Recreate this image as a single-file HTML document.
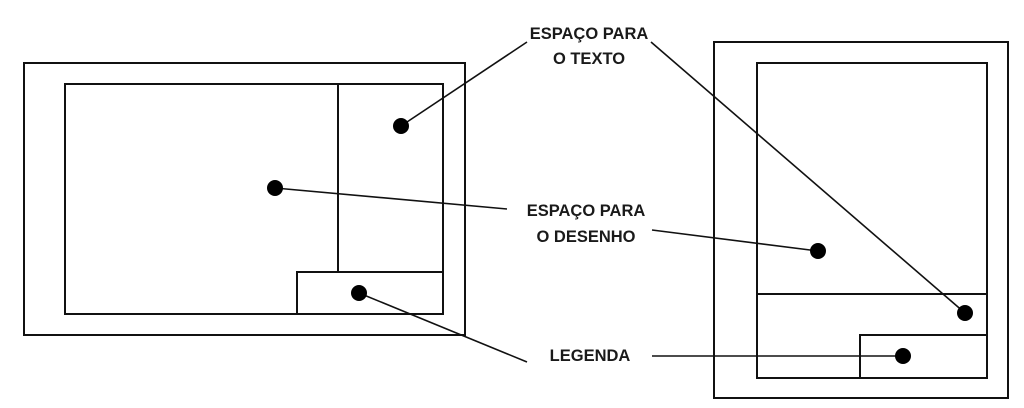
<!DOCTYPE html>
<html><head><meta charset="utf-8"><style>
html,body{margin:0;padding:0;background:#fff;}
svg{display:block}
text{font-family:"Liberation Sans",sans-serif;font-size:16.5px;font-weight:bold;fill:#1a1a1a;text-anchor:middle}
</style></head><body>
<svg width="1024" height="408" viewBox="0 0 1024 408">
<g fill="none" stroke="#111" stroke-width="2">
<rect x="24" y="63" width="441" height="272"/>
<rect x="65" y="84" width="378" height="230"/>
<line x1="338" y1="84" x2="338" y2="272"/>
<rect x="297" y="272" width="146" height="42"/>
<rect x="714" y="42" width="294" height="356"/>
<rect x="757" y="63" width="230" height="315"/>
<line x1="757" y1="294" x2="987" y2="294"/>
<rect x="860" y="335" width="127" height="43"/>
</g>
<g stroke="#111" stroke-width="1.6">
<line x1="401" y1="126" x2="527" y2="42"/>
<line x1="275" y1="188" x2="507" y2="209"/>
<line x1="359" y1="293" x2="527" y2="362"/>
<line x1="651" y1="42" x2="965" y2="313"/>
<line x1="652" y1="230" x2="818" y2="251"/>
<line x1="652" y1="356" x2="903" y2="356"/>
</g>
<g fill="#000">
<circle cx="401" cy="126" r="8"/>
<circle cx="275" cy="188" r="8"/>
<circle cx="359" cy="293" r="8"/>
<circle cx="818" cy="251" r="8"/>
<circle cx="965" cy="313" r="8"/>
<circle cx="903" cy="356" r="8"/>
</g>
<text x="589" y="39">ESPAÇO PARA</text>
<text x="589" y="64">O TEXTO</text>
<text x="586" y="216">ESPAÇO PARA</text>
<text x="586" y="242">O DESENHO</text>
<text x="590" y="361">LEGENDA</text>
</svg>
</body></html>
